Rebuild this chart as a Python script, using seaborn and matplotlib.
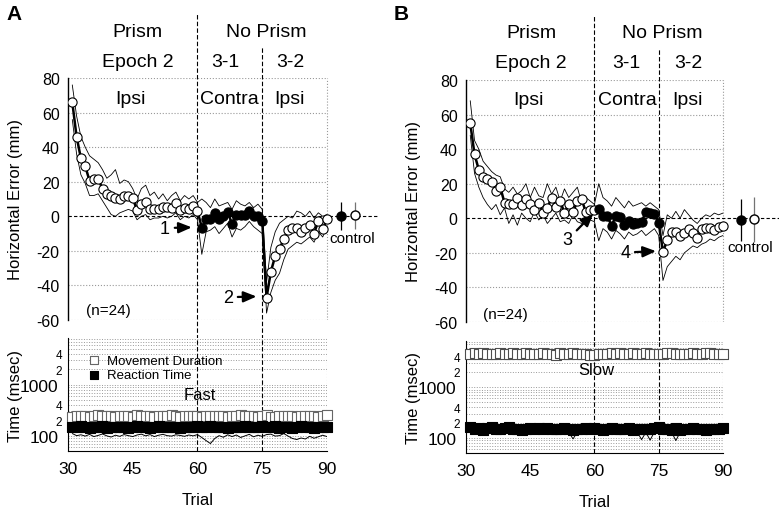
"""
Prism adaptation: horizontal error and movement timing across trials 30-90,
two panels (A = fast throws, B = slow throws).
"""
import numpy as np
import matplotlib
matplotlib.use("Agg")
import matplotlib.pyplot as plt
from matplotlib.ticker import FixedLocator, FuncFormatter
import seaborn as sns

# ---- data ----
trials = np.arange(31, 91)
xticks = [30, 45, 60, 75, 90]
yticks_err = [-60, -40, -20, 0, 20, 40, 60, 80]

# panel A, horizontal error (mm)
a_mean = [66, 46, 33.5, 29, 20.5, 21.5, 21.5, 16, 13, 11.5, 10.5, 10, 11.5, 11.5, 10.5,
          3.5, 7, 8.5, 4, 4, 4, 5.5, 5.5, 5, 7.5, 3.5, 5, 4.5, 6, 3,
          -6.5, -1.5, -1.5, 2, -1.5, 0, 2.5, -4.5, 1, 0.5, 1, 3, 0, 0, -2.5,
          -47, -32, -23, -19, -13, -8, -7, -6.5, -9, -7, -5, -10, -2.5, -7.5, -1.5]
a_upper = [76, 58, 46, 40, 35, 33, 31, 27, 22, 24, 27, 19, 21, 20, 16,
           10, 16, 18, 12, 14, 10, 13, 9, 12, 14, 9, 12, 10, 12, 8,
           10, 8, 5, 10, 6, 7, 8, 4, 9, 7, 6, 8, 5, 7, 4,
           -38, -18, -9, -4, -2, 0, -1, 3, 2, 0, 3, -1, 2, 0, 1]
a_lower = [56, 36, 24, 19, 12, 12, 13, 9, 5, 1, 0, 2, 3, 4, 3,
           -2, 0, 1, -2, -1, -1, 0, -1, 0, 2, -2, 0, -1, 1, -2,
           -22, -9, -8, -6, -10, -7, -4, -12, -7, -8, -6, -3, -6, -8, -10,
           -56, -44, -37, -33, -25, -19, -17, -15, -16, -14, -12, -15, -9, -12, -6]
a_ctrl_mean = [0, 0.5]
a_ctrl_err = [8, 8]

# panel B, horizontal error (mm)
b_mean = [55, 37, 28, 24, 22.5, 21, 16, 18, 9, 8.5, 8.5, 12, 7.5, 11, 8,
          5, 9, 3, 6, 12, 6.5, 10, 3, 8.5, 3.5, 10, 11, 3.5, 4.5, 5,
          5.5, 1.5, 1.5, -4.5, 1.5, 0.5, -4, -1.5, -3.5, -3, -2, 3.5, 3, 2.5, -2.5,
          -19.5, -12.5, -8, -8, -10.5, -8.5, -6, -8.5, -11.5, -6, -5.5, -5.5, -7, -5, -4.5]
b_upper = [68, 45, 40, 33, 30, 27, 25, 24, 17, 15, 18, 14, 16, 20, 12,
           18, 13, 12, 20, 14, 18, 10, 17, 12, 15, 18, 9, 12, 10, 8,
           20, 12, 10, 7, 12, 9, 6, 10, 7, 8, 9, 7, 9, 7, 5,
           -10, 2, 0, 4, 0, 5, 2, -1, -3, 0, 2, 1, 3, 2, 3]
b_lower = [48, 26, 18, 12, 8, 5, 8, 2, 6, -3, 2, -4, 3, 0, -2,
           4, -1, 2, -3, 0, 3, -2, -1, -3, 2, -2, -3, 0, -1, -2,
           -13, -6, -8, -12, -7, -9, -12, -8, -10, -9, -7, -10, -8, -6, -10,
           -36, -28, -25, -22, -24, -20, -18, -16, -17, -15, -14, -12, -13, -11, -10]
b_ctrl_mean = [-1, -0.5]
b_ctrl_err = [12, 13]

# panel A, timing (msec)
a_md = [235, 240, 238, 245, 236, 242, 250, 238, 240, 246, 237, 241, 239, 244, 236,
        250, 243, 238, 241, 236, 245, 239, 244, 252, 240, 237, 248, 243, 239, 238,
        236, 241, 245, 238, 240, 247, 236, 243, 239, 251, 238, 244, 240, 236, 242,
        249, 237, 232, 240, 245, 238, 243, 236, 241, 246, 239, 244, 237, 241, 252]
a_rt = [150, 145, 155, 148, 142, 150, 146, 152, 144, 148, 151, 145, 149, 143, 147,
        152, 146, 150, 144, 149, 153, 147, 145, 150, 148, 143, 151, 146, 149, 155,
        150, 147, 152, 145, 148, 150, 144, 149, 151, 146, 153, 148, 145, 150, 152,
        147, 149, 155, 140, 146, 150, 143, 148, 152, 145, 149, 140, 147, 150, 148]
a_rt_lower = [110, 100, 104, 98, 106, 96, 101, 108, 99, 94, 102, 97, 105, 100, 96,
              103, 107, 99, 105, 96, 102, 106, 100, 98, 104, 101, 97, 103, 99, 105,
              92, 80, 70, 88, 100, 93, 104, 96, 103, 92, 99, 106, 95, 102, 97,
              105, 107, 98, 100, 110, 98, 88, 84, 90, 86, 97, 89, 95, 102, 96]
a_rt_upper = [172, 168, 176, 170, 165, 174, 169, 175, 167, 171, 176, 168, 172, 166, 170,
              177, 169, 173, 167, 172, 178, 170, 168, 174, 171, 166, 175, 169, 172, 178,
              176, 170, 175, 168, 171, 174, 167, 172, 175, 169, 177, 171, 168, 173, 176,
              170, 172, 179, 166, 170, 174, 167, 171, 176, 168, 172, 165, 170, 174, 171]

# panel B, timing (msec)
b_md = [4600, 4650, 4550, 4700, 4600, 4580, 4620, 4700, 4560, 4600, 4750, 4620, 4580, 4660, 4600,
        4550, 4620, 4680, 4600, 4560, 4430, 4650, 4620, 4580, 4700, 4600, 4640, 4560, 4420, 4250,
        4600, 4630, 4580, 4660, 4600, 4700, 4560, 4620, 4650, 4600, 4580, 4680, 4600, 4620, 4560,
        4600, 4650, 4700, 4580, 4600, 4560, 4630, 4700, 4600, 4580, 4720, 4650, 4600, 4560, 4580]
b_rt = [165, 150, 158, 145, 155, 162, 150, 147, 156, 160, 148, 152, 143, 150, 157,
        149, 153, 146, 155, 150, 147, 152, 158, 148, 140, 151, 146, 155, 150, 153,
        148, 145, 152, 157, 149, 146, 150, 153, 144, 150, 148, 152, 146, 155, 162,
        150, 147, 143, 153, 140, 146, 150, 155, 148, 152, 145, 150, 147, 152, 158]
b_rt_lower = [140, 132, 136, 128, 134, 138, 126, 130, 135, 122, 131, 137, 128, 133, 129,
              136, 130, 125, 133, 128, 131, 127, 134, 129, 95, 130, 133, 127, 131, 128,
              134, 129, 132, 127, 130, 133, 128, 131, 126, 130, 92, 128, 90, 131, 129,
              133, 127, 130, 88, 128, 132, 129, 134, 127, 131, 128, 133, 129, 131, 135]


def eixo_erro(ax, media, sup, inf, ctrl_media, ctrl_err, xmax, ctrl_x, rotulos):
    """Upper panel: mean horizontal error with envelope and controls."""
    ax.set_xlim(30, xmax)
    ax.set_ylim(-60, 80)

    grid = dict(color="0.6", ls=":", lw=0.8, zorder=0)
    ax.hlines([y for y in yticks_err if y != 0], 30, 90, **grid)
    ax.vlines(90, -60, 80, **grid)
    ax.hlines(0, 30, xmax, color="k", ls=(0, (3, 2)), lw=0.8, zorder=1)
    for xv, ytop in [(60, 1.265), (75, 1.13)]:
        ax.axvline(xv, ymin=-0.08, ymax=ytop, color="k", ls=(0, (4, 2)),
                   lw=0.8, clip_on=False, zorder=1)

    sns.lineplot(x=trials, y=sup, ax=ax, color="k", lw=0.6)
    sns.lineplot(x=trials, y=inf, ax=ax, color="k", lw=0.6)
    sns.lineplot(x=trials, y=media, ax=ax, color="k", lw=1.8)

    media = np.asarray(media)
    abertos = np.r_[0:30, 45:60]
    sns.scatterplot(x=trials[abertos], y=media[abertos], ax=ax, s=44,
                    color="white", edgecolor="k", linewidth=0.8, zorder=4)
    sns.scatterplot(x=trials[30:45], y=media[30:45], ax=ax, s=44,
                    color="k", edgecolor="k", linewidth=0.8, zorder=4)

    # control points
    ax.errorbar(ctrl_x[0], ctrl_media[0], yerr=ctrl_err[0], fmt="o", ms=6.5,
                color="k", mfc="k", elinewidth=0.9, capsize=0, zorder=5)
    ax.errorbar(ctrl_x[1], ctrl_media[1], yerr=ctrl_err[1], fmt="o", ms=6.5,
                color="0.45", mfc="white", mec="k", elinewidth=0.9, capsize=0, zorder=5)

    # header texts
    big = dict(fontsize=14, ha="center", va="center", clip_on=False)
    for txt, xx, yy in rotulos:
        ax.text(xx, yy, txt, **big)

    ax.set_yticks(yticks_err)
    ax.set_xticks([])
    ax.set_ylabel("Horizontal Error (mm)", fontsize=12)
    ax.yaxis.set_label_coords(-0.145, 0.5)
    sns.despine(ax=ax, bottom=True)
    ax.tick_params(axis="y", direction="out", length=5, width=1, labelsize=11.5, pad=1)
    ax.spines["left"].set_linewidth(1)


def eixo_tempo(ax, md, rt, rt_inf, rt_sup=None, md_cor="0.45"):
    """Lower panel: movement duration and reaction time on a log axis."""
    ax.set_yscale("log")
    ax.set_xlim(30, 90)
    ax.set_ylim(50, 8200)

    sns.lineplot(x=trials, y=rt_inf, ax=ax, color="k", lw=0.7)
    if rt_sup is not None:
        sns.lineplot(x=trials, y=rt_sup, ax=ax, color="k", lw=0.7)
    sns.scatterplot(x=trials, y=md, ax=ax, marker="s", s=42, color="white",
                    edgecolor=md_cor, linewidth=0.8, zorder=4, clip_on=False,
                    label="Movement Duration")
    sns.scatterplot(x=trials, y=rt, ax=ax, marker="s", s=42, color="k",
                    edgecolor="k", linewidth=0.8, zorder=4, clip_on=False,
                    label="Reaction Time")

    ax.yaxis.set_major_locator(FixedLocator([100, 1000]))
    ax.yaxis.set_major_formatter(FuncFormatter(lambda v, p: f"{v:.0f}"))
    menores = [m * 10 ** e for e in (1, 2, 3) for m in range(2, 10)]
    menores = [v for v in menores if 50 <= v <= 8200]
    ax.yaxis.set_minor_locator(FixedLocator(menores))
    ax.yaxis.set_minor_formatter(FuncFormatter(
        lambda v, p: str(int(round(v / 10 ** np.floor(np.log10(v)))))
        if round(v / 10 ** np.floor(np.log10(v))) in (2, 4) and v > 100 else ""))
    ax.yaxis.grid(True, which="both", color="0.6", ls=":", lw=0.7)
    ax.set_axisbelow(True)
    ax.axvline(90, color="0.6", ls=":", lw=0.8, zorder=0)
    for xv in (60, 75):
        ax.axvline(xv, color="k", ls=(0, (4, 2)), lw=0.8, zorder=1)

    ax.set_xticks(xticks)
    ax.set_xlabel("Trial", fontsize=12, labelpad=12)
    ax.set_ylabel("Time (msec)", fontsize=12)
    ax.yaxis.set_label_coords(-0.174, 0.5)
    sns.despine(ax=ax)
    ax.tick_params(axis="both", which="major", direction="out", length=5,
                   width=1, labelsize=12.5, pad=2)
    ax.tick_params(axis="y", which="minor", direction="out", length=3,
                   width=0.8, labelsize=8.5, pad=1)


def principal():
    sns.set_style("white")
    plt.rcParams["font.family"] = ["Liberation Sans", "DejaVu Sans"]
    plt.rcParams["axes.unicode_minus"] = False
    for chave in ["text.color", "axes.labelcolor", "xtick.color",
                  "ytick.color", "axes.edgecolor"]:
        plt.rcParams[chave] = "black"
    fig = plt.figure(figsize=(7.83, 5.10), dpi=100)

    ax_a = fig.add_axes([0.0868, 0.3706, 0.397, 0.4745])
    ax_at = fig.add_axes([0.0868, 0.1137, 0.3308, 0.2216])
    ax_b = fig.add_axes([0.5951, 0.3667, 0.3993, 0.4745])
    ax_bt = fig.add_axes([0.5951, 0.1098, 0.3282, 0.2196])

    cab = [("Prism", 46.2, 107), ("Epoch 2", 46.2, 89.5), ("No Prism", 76, 107),
           ("3-1", 66.4, 89.5), ("3-2", 81.4, 89.5)]
    cab_a = cab + [("Ipsi", 44.6, 68), ("Contra", 67.3, 68), ("Ipsi", 81.4, 68)]
    cab_b = [("Prism", 45.4, 107.5), ("Epoch 2", 45.2, 90), ("No Prism", 75.8, 107.5),
             ("3-1", 67.4, 90), ("3-2", 82, 90),
             ("Ipsi", 44.5, 69), ("Contra", 67.6, 69), ("Ipsi", 81.8, 69)]

    eixo_erro(ax_a, a_mean, a_upper, a_lower, a_ctrl_mean, a_ctrl_err, 102,
              (93.2, 96.5), cab_a)
    eixo_erro(ax_b, b_mean, b_upper, b_lower, b_ctrl_mean, b_ctrl_err, 103,
              (94.2, 97.3), cab_b)

    seta = dict(arrowstyle="-|>,head_length=0.6,head_width=0.25", color="k", lw=1.6,
                shrinkA=1, shrinkB=1)
    ax_a.annotate("1", xy=(59.0, -6.4), xytext=(52.5, -6.8), fontsize=13,
                  ha="center", va="center", arrowprops=seta)
    ax_a.annotate("2", xy=(74.0, -46.4), xytext=(67.1, -46.8), fontsize=13,
                  ha="center", va="center", arrowprops=seta)
    ax_b.annotate("3", xy=(60.0, 3.5), xytext=(53.7, -12.5), fontsize=13,
                  ha="center", va="center", arrowprops=seta)
    ax_b.annotate("4", xy=(74.7, -19.0), xytext=(67.2, -19.8), fontsize=13,
                  ha="center", va="center", arrowprops=seta)

    ax_a.text(39.3, -54.5, "(n=24)", fontsize=11, ha="center", va="center")
    ax_b.text(39.3, -55.5, "(n=24)", fontsize=11, ha="center", va="center")
    ax_a.text(95.8, -12.8, "control", fontsize=11, ha="center", va="center")
    ax_b.text(96.3, -16.5, "control", fontsize=11, ha="center", va="center")

    eixo_tempo(ax_at, a_md, a_rt, a_rt_lower, a_rt_upper, md_cor="0.4")
    eixo_tempo(ax_bt, b_md, b_rt, b_rt_lower, md_cor="0.3")
    ax_at.legend(loc="upper left", bbox_to_anchor=(0.03, 0.9), frameon=False,
                 fontsize=9.5, handletextpad=0.0, labelspacing=0.15,
                 borderaxespad=0, markerscale=0.9)
    ax_bt.legend().remove()
    ax_at.text(60.6, 640, "Fast", fontsize=12, ha="center", va="center")
    ax_bt.text(60.4, 2250, "Slow", fontsize=12, ha="center", va="center")

    fig.text(0.008, 0.972, "A", fontsize=15, fontweight="bold", va="center")
    fig.text(0.503, 0.972, "B", fontsize=15, fontweight="bold", va="center")

    fig.savefig("out.png", dpi=100)


if __name__ == "__main__":
    principal()
